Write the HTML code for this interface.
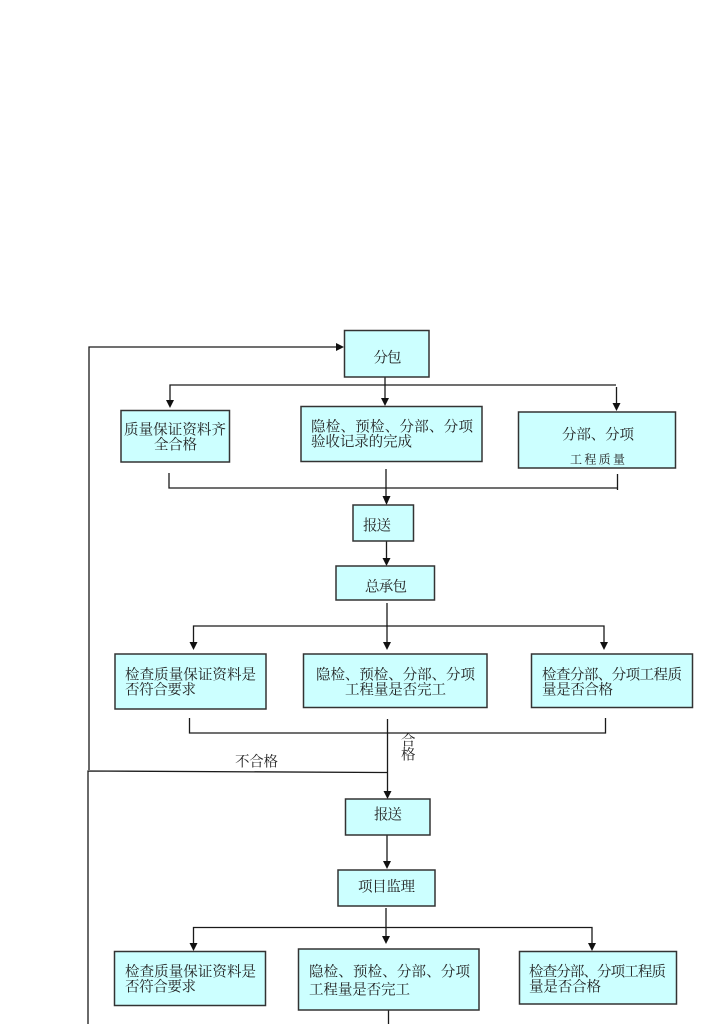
<!DOCTYPE html>
<html lang="zh">
<head>
<meta charset="utf-8">
<title>质量验收流程</title>
<style>
html,body{margin:0;padding:0;background:#fff;width:724px;height:1024px;overflow:hidden}
svg{display:block}
text{font-family:"Liberation Serif","Noto Serif CJK SC",serif;font-size:14.500px;fill:#222}
.b{fill:#ccffff;stroke:#333;stroke-width:1.500}
.l{fill:none;stroke:#1a1a1a;stroke-width:1.300}
.a{fill:#111}
</style>
</head>
<body>
<svg width="724" height="1024" viewBox="0 0 724 1024" xmlns="http://www.w3.org/2000/svg">
<!-- connectors -->
<path class="l" d="M89 770V347H338"/>
<path class="l" d="M88 1024V771L387 772.5"/>
<path class="l" d="M170 402V385H616"/>
<path class="l" d="M385 377V400"/>
<path class="l" d="M616.500 387V404"/>
<path class="l" d="M169 473V488H617.500M617.500 474V490"/>
<path class="l" d="M386 469V498"/>
<path class="l" d="M386.500 541V560"/>
<path class="l" d="M387 603V644"/>
<path class="l" d="M193.500 644V626H604V644"/>
<path class="l" d="M189.500 718V733H605.500V718"/>
<path class="l" d="M387.500 719V792"/>
<path class="l" d="M387 835V862"/>
<path class="l" d="M386 908V937"/>
<path class="l" d="M193.500 945V927.500H592V945"/>
<path class="l" d="M388.500 1010V1024"/>
<!-- arrowheads -->
<path class="a" d="M344 347L336 343V351Z"/>
<path class="a" d="M170 408L166 400H174Z"/>
<path class="a" d="M385 406L381 398H389Z"/>
<path class="a" d="M616.500 411L612.500 403H620.500Z"/>
<path class="a" d="M386.500 505L382.500 496H390.500Z"/>
<path class="a" d="M386.500 566L382.500 558H390.500Z"/>
<path class="a" d="M193.500 650L189.500 642H197.500Z"/>
<path class="a" d="M387 650L383 642H391Z"/>
<path class="a" d="M604 650L600 642H608Z"/>
<path class="a" d="M387.500 799L383.500 791H391.500Z"/>
<path class="a" d="M387 869L383 861H391Z"/>
<path class="a" d="M193.500 951L189.500 943H197.500Z"/>
<path class="a" d="M386 944L382 936H390Z"/>
<path class="a" d="M592 951L588 943H596Z"/>
<!-- boxes -->
<rect class="b" x="344.500" y="330.500" width="84.500" height="46.500"/>
<rect class="b" x="121" y="410.500" width="108.500" height="51.500"/>
<rect class="b" x="301" y="406.500" width="181" height="55"/>
<rect class="b" x="518.500" y="412" width="157" height="56"/>
<rect class="b" x="353" y="505" width="60.500" height="36"/>
<rect class="b" x="336" y="566" width="98.500" height="34"/>
<rect class="b" x="115" y="654" width="151" height="55"/>
<rect class="b" x="303.500" y="654" width="183.500" height="53.500"/>
<rect class="b" x="531.500" y="654" width="161" height="53.500"/>
<rect class="b" x="345.500" y="799" width="84.500" height="36"/>
<rect class="b" x="338" y="870" width="97" height="36"/>
<rect class="b" x="114.500" y="951.500" width="151" height="54"/>
<rect class="b" x="298.500" y="949" width="180.500" height="61"/>
<rect class="b" x="519.500" y="951.500" width="157" height="52.500"/>
<!-- labels -->
<text x="373.500" y="362.500" textLength="28" lengthAdjust="spacing">分包</text>
<text x="124" y="434.500" textLength="102" lengthAdjust="spacing">质量保证资料齐</text>
<text x="154" y="449.500" textLength="43" lengthAdjust="spacing">全合格</text>
<text x="311" y="431.500" textLength="162" lengthAdjust="spacing">隐检、预检、分部、分项</text>
<text x="311" y="446.500" textLength="101" lengthAdjust="spacing">验收记录的完成</text>
<text x="562" y="439.500" textLength="72" lengthAdjust="spacing">分部、分项</text>
<text x="570" y="463.500" textLength="55" lengthAdjust="spacing" style="font-size:12px">工程质量</text>
<text x="363" y="530.500" textLength="28" lengthAdjust="spacing">报送</text>
<text x="365" y="591.500" textLength="42" lengthAdjust="spacing">总承包</text>
<text x="125" y="679.500" textLength="131" lengthAdjust="spacing">检查质量保证资料是</text>
<text x="125" y="694.500" textLength="71" lengthAdjust="spacing">否符合要求</text>
<text x="316" y="679.500" textLength="159" lengthAdjust="spacing">隐检、预检、分部、分项</text>
<text x="345" y="694.500" textLength="101" lengthAdjust="spacing">工程量是否完工</text>
<text x="542" y="679.500" textLength="140" lengthAdjust="spacing">检查分部、分项工程质</text>
<text x="542" y="694.500" textLength="71" lengthAdjust="spacing">量是否合格</text>
<text x="235" y="766.500" textLength="43" lengthAdjust="spacing">不合格</text>
<text x="401" y="745.500">合</text>
<text x="401" y="759.500">格</text>
<text x="374" y="819.500" textLength="28" lengthAdjust="spacing">报送</text>
<text x="358" y="891.500" textLength="57" lengthAdjust="spacing">项目监理</text>
<text x="125" y="976.500" textLength="131" lengthAdjust="spacing">检查质量保证资料是</text>
<text x="125" y="991.500" textLength="71" lengthAdjust="spacing">否符合要求</text>
<text x="309" y="976.500" textLength="161" lengthAdjust="spacing">隐检、预检、分部、分项</text>
<text x="309" y="994.500" textLength="101" lengthAdjust="spacing">工程量是否完工</text>
<text x="529" y="976.500" textLength="137" lengthAdjust="spacing">检查分部、分项工程质</text>
<text x="529" y="991.500" textLength="72" lengthAdjust="spacing">量是否合格</text>
</svg>
</body>
</html>
